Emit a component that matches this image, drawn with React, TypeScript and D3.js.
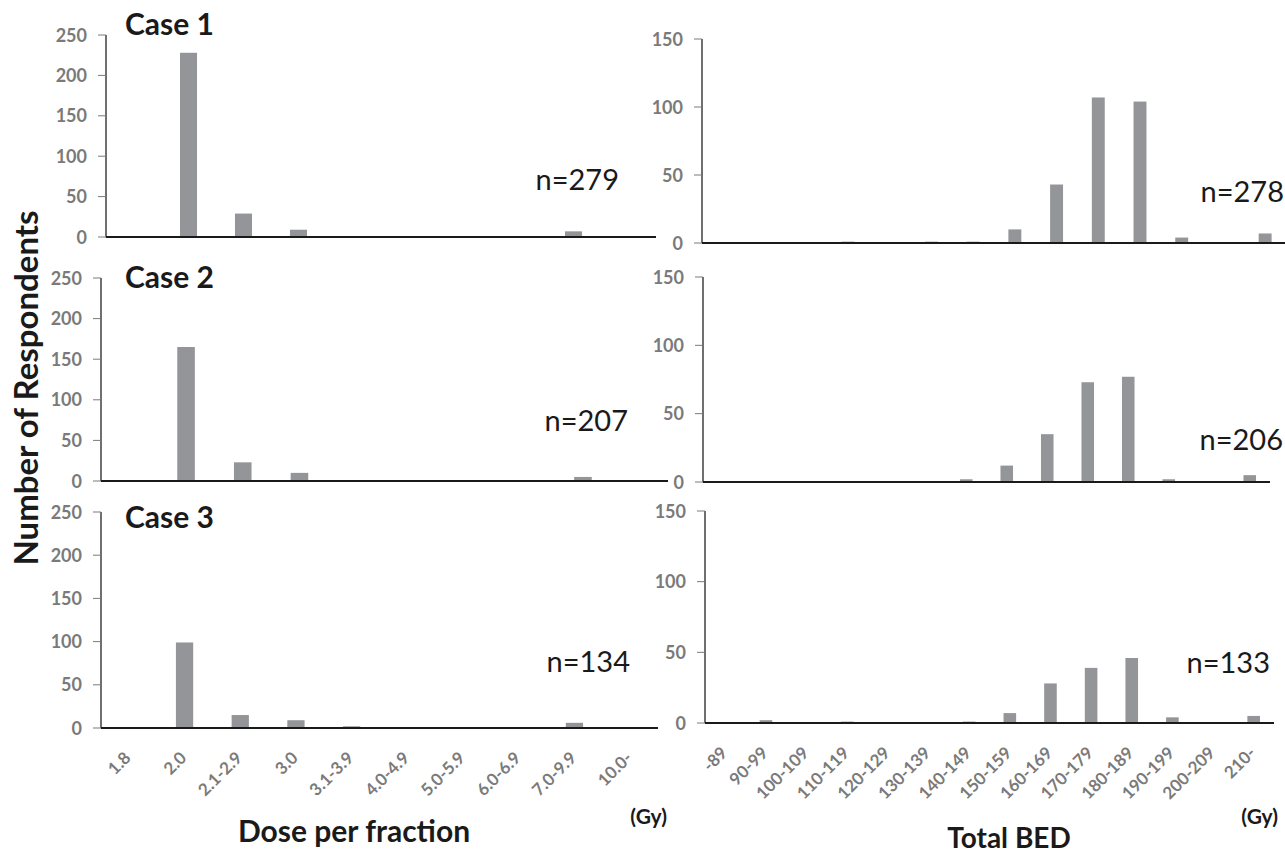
import React from "react";
import * as d3 from "d3";

const doseCategories = ["1.8", "2.0", "2.1-2.9", "3.0", "3.1-3.9", "4.0-4.9", "5.0-5.9", "6.0-6.9", "7.0-9.9", "10.0-"];
const bedCategories = ["-89", "90-99", "100-109", "110-119", "120-129", "130-139", "140-149", "150-159", "160-169", "170-179", "180-189", "190-199", "200-209", "210-"];

const doseCase1 = [0, 228, 29, 9, 1, 0, 0, 0, 7, 1];
const doseCase2 = [0, 165, 23, 10, 0, 0, 0, 0, 5, 0];
const doseCase3 = [0, 99, 15, 9, 2, 0, 0, 0, 6, 0];

const bedCase1 = [0, 0, 0, 1, 0, 1, 1, 10, 43, 107, 104, 4, 0, 7];
const bedCase2 = [0, 0, 0, 0, 0, 0, 2, 12, 35, 73, 77, 2, 0, 5];
const bedCase3 = [0, 2, 0, 1, 0, 0, 1, 7, 28, 39, 46, 4, 0, 5];

const caseLabels = ["Case 1", "Case 2", "Case 3"];
const doseN = [279, 207, 134];
const bedN = [278, 206, 133];

const doseTicks = [0, 50, 100, 150, 200, 250];
const bedTicks = [0, 50, 100, 150];

const FONT = "Lato, 'Open Sans', sans-serif";
const BAR = "#939598";
const TICKC = "#7a7a7a";

// layout (pixels)
const leftLayout = [
  { x0: 106, x1: 656, top: 35, base: 237, nx: 619, ny: 190, cy: 35 },
  { x0: 101, x1: 668, top: 278, base: 481, nx: 628, ny: 431, cy: 288 },
  { x0: 101, x1: 658, top: 512, base: 728, nx: 630, ny: 672, cy: 528 },
];
const rightLayout = [
  { x0: 702, x1: 1286, top: 39, base: 243, nx: 1284, ny: 202 },
  { x0: 703, x1: 1270, top: 277, base: 482, nx: 1283, ny: 450 },
  { x0: 705, x1: 1274, top: 511, base: 723, nx: 1270, ny: 673 },
];

type Lay = { x0: number; x1: number; top: number; base: number; nx: number; ny: number; cy?: number };

function Panel({ lay, cats, vals, ticks, n, label, showX }: { lay: Lay; cats: string[]; vals: number[]; ticks: number[]; n: number; label?: string; showX: boolean }) {
  const x = d3.scaleBand<string>().domain(cats).range([lay.x0, lay.x1]).paddingInner(0.69).paddingOuter(0.345);
  const y = d3.scaleLinear().domain([0, ticks[ticks.length - 1]]).range([lay.base, lay.top]);
  return (
    <g>
      {vals.map((v, i) => (
        <rect key={i} x={x(cats[i])} width={x.bandwidth()} y={y(v)} height={lay.base - y(v)} fill={BAR} />
      ))}
      <line x1={lay.x0} x2={lay.x0} y1={lay.top} y2={lay.base} stroke="#222" strokeWidth={1.3} />
      {ticks.map((t) => (
        <g key={t}>
          <line x1={lay.x0 - 8} x2={lay.x0} y1={y(t)} y2={y(t)} stroke={TICKC} strokeWidth={1} />
          <text x={lay.x0 - 19} y={y(t) + 6.5} textAnchor="end" fontFamily={FONT} fontWeight={700} fontSize={18} fill={TICKC}>{t}</text>
        </g>
      ))}
      <line x1={lay.x0} x2={lay.x1} y1={lay.base} y2={lay.base} stroke="#1a1a1a" strokeWidth={2.2} />
      {showX && cats.map((c) => {
        const cx = (x(c) as number) + x.bandwidth() / 2;
        return (
          <text key={c} transform={`translate(${cx + 3},${lay.base + 31}) rotate(-45)`} textAnchor="end" fontFamily={FONT} fontWeight={700} fontSize={17} fill={TICKC}>{c}</text>
        );
      })}
      <text x={lay.nx} y={lay.ny} textAnchor="end" fontFamily={FONT} fontSize={29} fill="#1a1a1a">{`n=${n}`}</text>
      {label && (
        <text x={125} y={lay.cy} fontFamily={FONT} fontWeight={700} fontSize={30} fill="#1a1a1a">{label}</text>
      )}
    </g>
  );
}

export default function App() {
  const doseVals = [doseCase1, doseCase2, doseCase3];
  const bedVals = [bedCase1, bedCase2, bedCase3];
  return (
    <svg width={1285} height={856} style={{ position: "absolute", left: 0, top: 0, background: "#fff" }}>
      <rect width={1285} height={856} fill="#fff" />
      {leftLayout.map((lay, i) => (
        <Panel key={"l" + i} lay={lay} cats={doseCategories} vals={doseVals[i]} ticks={doseTicks} n={doseN[i]} label={caseLabels[i]} showX={i === 2} />
      ))}
      {rightLayout.map((lay, i) => (
        <Panel key={"r" + i} lay={lay} cats={bedCategories} vals={bedVals[i]} ticks={bedTicks} n={bedN[i]} showX={i === 2} />
      ))}
      <text transform="translate(38,388) rotate(-90)" textAnchor="middle" fontFamily={FONT} fontWeight={700} fontSize={33} fill="#1a1a1a">Number of Respondents</text>
      <text x={354} y={842} textAnchor="middle" fontFamily={FONT} fontWeight={700} fontSize={30} fill="#1a1a1a">Dose per fraction</text>
      <text x={1009} y={848} textAnchor="middle" fontFamily={FONT} fontWeight={700} fontSize={28} fill="#1a1a1a">Total BED</text>
      <text x={667} y={824} textAnchor="end" fontFamily={FONT} fontWeight={700} fontSize={21} fill="#1a1a1a">(Gy)</text>
      <text x={1278} y={824} textAnchor="end" fontFamily={FONT} fontWeight={700} fontSize={21} fill="#1a1a1a">(Gy)</text>
    </svg>
  );
}
